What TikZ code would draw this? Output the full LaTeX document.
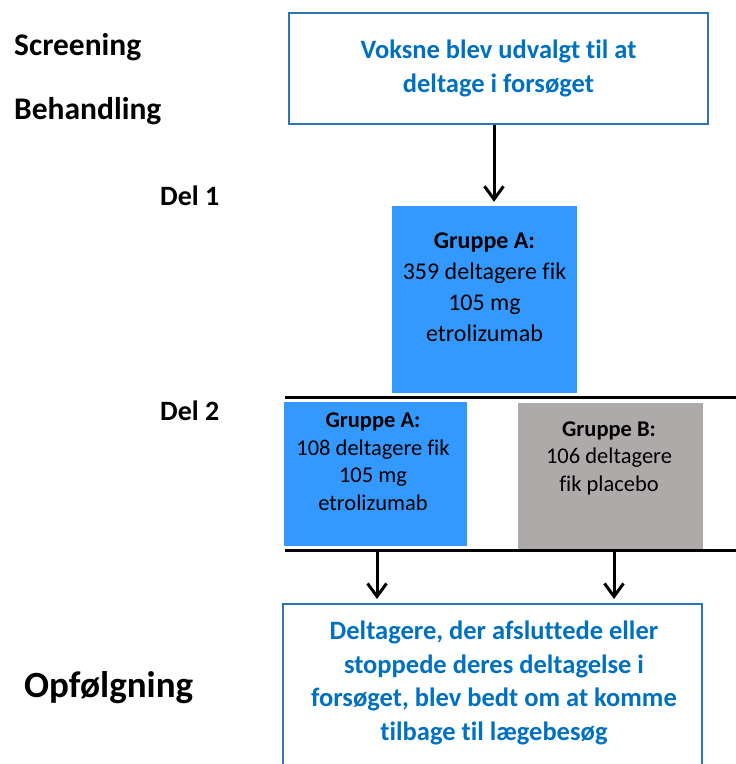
\documentclass[tikz,border=0pt]{standalone}
\usepackage{fontspec}
\setmainfont{Carlito}[RawFeature={-liga;-dlig;-clig}]
\usetikzlibrary{arrows.meta}
\definecolor{txtblue}{RGB}{0,112,192}
\definecolor{lineblue}{RGB}{46,117,182}
\definecolor{armblue}{RGB}{51,153,255}
\definecolor{armgray}{RGB}{174,170,170}
\tikzset{
  outline/.style={draw=lineblue, line width=2pt, fill=white, inner sep=0pt},
  armbox/.style={inner sep=0pt, draw=none},
  bluetext/.style={text=txtblue, align=center, font=\fontsize{26.5}{33.5}\selectfont\bfseries},
  armtext/.style={align=center},
  phase/.style={anchor=west, inner sep=0pt},
  arr/.style={line width=3pt, shorten >=4pt, -{Straight Barb[length=13pt,width=19pt]}},
}

\begin{document}
\begin{tikzpicture}[x=1pt,y=-1pt]
    \useasboundingbox (0,0) rectangle (736,764);
    \clip (0,0) rectangle (736,764);
    % phases on the left
    \node[phase, font=\fontsize{31.5}{36}\selectfont\bfseries] (screen) at (14,47) {Screening};
    \node[phase, font=\fontsize{31.5}{36}\selectfont\bfseries] (treat) at (14,111) {Behandling};
    \node[phase, font=\fontsize{28}{32}\selectfont\bfseries] (del1) at (160,196) {Del 1};
    \node[phase, font=\fontsize{28}{32}\selectfont\bfseries] (del2) at (160,411) {Del 2};
    \node[phase, font=\fontsize{37}{42}\selectfont\bfseries] (follow) at (24,688) {Opfølgning};
    % screening
    \node[outline, bluetext, minimum width=419, minimum height=111] (scr) at (498.5,68.5)
      {Voksne blev udvalgt til at\\deltage i forsøget};
    % part 1
    \node[armbox, fill=armblue, minimum width=185, minimum height=187] (g1) at (484.5,299.5) {};
    \node[armtext, font=\fontsize{24}{31}\selectfont] (g1txt) at (484.5,287)
      {\textbf{Gruppe A:}\\359 deltagere fik\\105 mg\\etrolizumab};
    % part 2
    \node[armbox, fill=armblue, minimum width=183, minimum height=144] (g2a) at (375.5,474) {};
    \node[armtext, font=\fontsize{22.5}{27.5}\selectfont] (g2atxt) at (373,461.5)
      {\textbf{Gruppe A:}\\108 deltagere fik\\105 mg\\etrolizumab};
    \node[armbox, fill=armgray, minimum width=185, minimum height=146] (g2b) at (610.5,476) {};
    \node[armtext, font=\fontsize{22.5}{27.5}\selectfont] (g2btxt) at (609,458)
      {\textbf{Gruppe B:}\\106 deltagere\\fik placebo};
    \foreach \y in {397,550} {
      \draw[line width=3pt] (285,\y) -- (736,\y);
    }
    % follow-up
    \node[outline, anchor=north, minimum width=419, minimum height=200] (fu) at (492.5,603) {};
    \node[bluetext] (futxt) at (494,683)
      {Deltagere, der afsluttede eller\\stoppede deres deltagelse i\\forsøget, blev bedt om at komme\\tilbage til lægebesøg};
    % arrows
    \coordinate (mid) at (494,0);
    \coordinate (outA) at (377,551.5);
    \coordinate (outB) at (614,551.5);
    \draw[arr] (scr.south -| mid) -- (g1.north -| mid);
    \draw[arr] (outA) -- (outA |- fu.north);
    \draw[arr] (outB) -- (outB |- fu.north);
\end{tikzpicture}
\end{document}
